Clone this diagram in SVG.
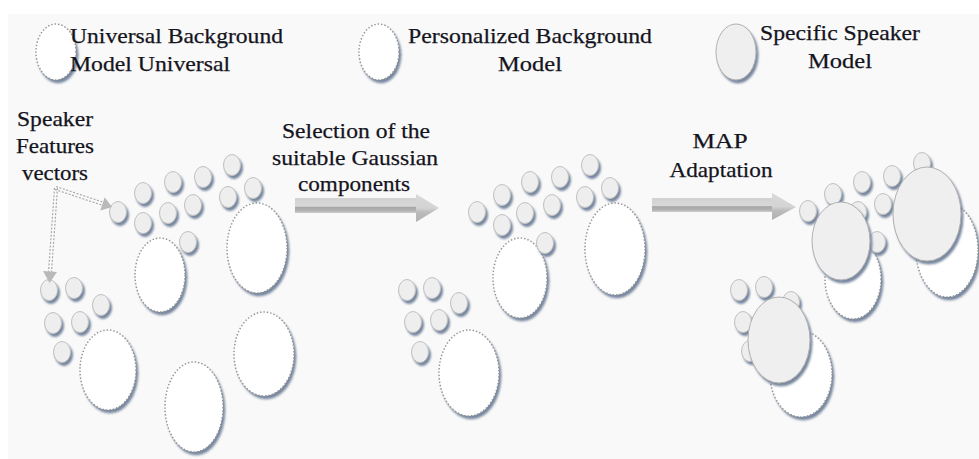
<svg xmlns="http://www.w3.org/2000/svg" width="979" height="459" viewBox="0 0 979 459">
<defs>
<style>
.t{font-family:"Liberation Serif","Times New Roman",serif;font-size:22px;fill:#141420;stroke:#141420;stroke-width:0.25}
.m{text-anchor:middle}
.sm{fill:#eeeeee;stroke:#c0c0c0;stroke-width:1;filter:url(#sh)}
.dot{fill:#ffffff;stroke:#959595;stroke-width:1.5;stroke-dasharray:1.4 2;filter:url(#sh)}
.big{fill:#efefef;stroke:#b0b0b0;stroke-width:1;filter:url(#sh)}
.cn{fill:none;stroke:#aaaaaa;stroke-width:1.2;stroke-dasharray:2 1.6}
</style>
<filter id="sh" x="-30%" y="-30%" width="160%" height="160%">
<feDropShadow dx="2" dy="3" stdDeviation="1.3" flood-color="#687a95" flood-opacity="0.9"/>
</filter>
<linearGradient id="shaft" x1="0" y1="0" x2="0" y2="1">
<stop offset="0" stop-color="#d2d2d2"/>
<stop offset="0.55" stop-color="#d8d8d8"/>
<stop offset="0.62" stop-color="#a8a8a8"/>
<stop offset="0.85" stop-color="#b2b2b2"/>
<stop offset="1" stop-color="#cfcfcf"/>
</linearGradient>
<linearGradient id="head" x1="0" y1="0" x2="0" y2="1">
<stop offset="0" stop-color="#d8d8d8"/>
<stop offset="0.5" stop-color="#d4d4d4"/>
<stop offset="0.65" stop-color="#bcbcbc"/>
<stop offset="1" stop-color="#b0b0b0"/>
</linearGradient>
</defs>
<rect x="0" y="0" width="979" height="459" fill="#ffffff"/>
<rect x="8" y="14" width="971" height="445" fill="#f9f9f9"/>

<g id="legend-ubm">
<ellipse class="dot" cx="56" cy="52" rx="20" ry="28"/>
<text class="t" x="70" y="43" textLength="213" lengthAdjust="spacingAndGlyphs">Universal Background</text>
<text class="t" x="70" y="71" textLength="160" lengthAdjust="spacingAndGlyphs">Model Universal</text>
</g>
<g id="legend-pbm">
<ellipse class="dot" cx="379" cy="52" rx="20" ry="28"/>
<text class="t" x="408" y="43" textLength="244" lengthAdjust="spacingAndGlyphs">Personalized Background</text>
<text class="t m" x="530" y="71" textLength="64" lengthAdjust="spacingAndGlyphs">Model</text>
</g>
<g id="legend-ssm">
<ellipse class="big" cx="736" cy="52" rx="20" ry="28"/>
<text class="t" x="760" y="40" textLength="160" lengthAdjust="spacingAndGlyphs">Specific Speaker</text>
<text class="t m" x="840" y="68" textLength="64" lengthAdjust="spacingAndGlyphs">Model</text>
</g>

<g id="label-features">
<text class="t m" x="55" y="126" textLength="76" lengthAdjust="spacingAndGlyphs">Speaker</text>
<text class="t m" x="55" y="153" textLength="78" lengthAdjust="spacingAndGlyphs">Features</text>
<text class="t m" x="55" y="180" textLength="66" lengthAdjust="spacingAndGlyphs">vectors</text>
</g>
<g id="label-selection">
<text class="t m" x="356" y="138" textLength="148" lengthAdjust="spacingAndGlyphs">Selection of the</text>
<text class="t m" x="355" y="165" textLength="166" lengthAdjust="spacingAndGlyphs">suitable Gaussian</text>
<text class="t m" x="354" y="191" textLength="112" lengthAdjust="spacingAndGlyphs">components</text>
</g>
<g id="label-map">
<text class="t m" x="720" y="148" textLength="55" lengthAdjust="spacingAndGlyphs">MAP</text>
<text class="t m" x="721" y="177" textLength="103" lengthAdjust="spacingAndGlyphs">Adaptation</text>
</g>

<g id="ubm-cluster">
<ellipse class="dot" cx="257" cy="248" rx="30" ry="45"/>
<ellipse class="dot" cx="160" cy="275" rx="25" ry="37"/>
<ellipse class="dot" cx="108" cy="370" rx="28" ry="40"/>
<ellipse class="dot" cx="194" cy="407" rx="29" ry="45"/>
<ellipse class="dot" cx="264" cy="354" rx="30" ry="42"/>
<ellipse class="sm" cx="118" cy="212" rx="8.5" ry="10.5"/>
<ellipse class="sm" cx="143" cy="193" rx="8.5" ry="10.5"/>
<ellipse class="sm" cx="173" cy="182" rx="8.5" ry="10.5"/>
<ellipse class="sm" cx="203" cy="177" rx="8.5" ry="10.5"/>
<ellipse class="sm" cx="232" cy="165" rx="8.5" ry="10.5"/>
<ellipse class="sm" cx="143" cy="223" rx="8.5" ry="10.5"/>
<ellipse class="sm" cx="168" cy="213" rx="8.5" ry="10.5"/>
<ellipse class="sm" cx="193" cy="205" rx="8.5" ry="10.5"/>
<ellipse class="sm" cx="228" cy="197" rx="8.5" ry="10.5"/>
<ellipse class="sm" cx="253" cy="188" rx="8.5" ry="10.5"/>
<ellipse class="sm" cx="188" cy="242" rx="8.5" ry="10.5"/>
<ellipse class="sm" cx="49" cy="290" rx="8.5" ry="10.5"/>
<ellipse class="sm" cx="74" cy="288" rx="8.5" ry="10.5"/>
<ellipse class="sm" cx="101" cy="305" rx="8.5" ry="10.5"/>
<ellipse class="sm" cx="53" cy="323" rx="8.5" ry="10.5"/>
<ellipse class="sm" cx="80" cy="322" rx="8.5" ry="10.5"/>
<ellipse class="sm" cx="62" cy="352" rx="8.5" ry="10.5"/>
</g>

<g id="pbm-cluster">
<ellipse class="dot" cx="615" cy="249" rx="30" ry="46"/>
<ellipse class="dot" cx="520" cy="278" rx="27" ry="40"/>
<ellipse class="dot" cx="469" cy="373" rx="30" ry="43"/>
<ellipse class="sm" cx="477" cy="212" rx="8.5" ry="10.5"/>
<ellipse class="sm" cx="502" cy="195" rx="8.5" ry="10.5"/>
<ellipse class="sm" cx="530" cy="182" rx="8.5" ry="10.5"/>
<ellipse class="sm" cx="560" cy="177" rx="8.5" ry="10.5"/>
<ellipse class="sm" cx="590" cy="165" rx="8.5" ry="10.5"/>
<ellipse class="sm" cx="502" cy="225" rx="8.5" ry="10.5"/>
<ellipse class="sm" cx="525" cy="213" rx="8.5" ry="10.5"/>
<ellipse class="sm" cx="552" cy="205" rx="8.5" ry="10.5"/>
<ellipse class="sm" cx="585" cy="197" rx="8.5" ry="10.5"/>
<ellipse class="sm" cx="610" cy="188" rx="8.5" ry="10.5"/>
<ellipse class="sm" cx="545" cy="243" rx="8.5" ry="10.5"/>
<ellipse class="sm" cx="407" cy="290" rx="8.5" ry="10.5"/>
<ellipse class="sm" cx="432" cy="288" rx="8.5" ry="10.5"/>
<ellipse class="sm" cx="459" cy="303" rx="8.5" ry="10.5"/>
<ellipse class="sm" cx="413" cy="322" rx="8.5" ry="10.5"/>
<ellipse class="sm" cx="439" cy="320" rx="8.5" ry="10.5"/>
<ellipse class="sm" cx="420" cy="352" rx="8.5" ry="10.5"/>
</g>

<g id="ssm-cluster">
<ellipse class="dot" cx="853" cy="279" rx="28" ry="40"/>
<ellipse class="dot" cx="947" cy="250" rx="31" ry="47"/>
<ellipse class="dot" cx="801" cy="374" rx="31" ry="43"/>
<ellipse class="sm" cx="808" cy="211" rx="8.5" ry="10.5"/>
<ellipse class="sm" cx="833" cy="194" rx="8.5" ry="10.5"/>
<ellipse class="sm" cx="862" cy="182" rx="8.5" ry="10.5"/>
<ellipse class="sm" cx="892" cy="176" rx="8.5" ry="10.5"/>
<ellipse class="sm" cx="922" cy="163" rx="8.5" ry="10.5"/>
<ellipse class="sm" cx="833" cy="225" rx="8.5" ry="10.5"/>
<ellipse class="sm" cx="858" cy="212" rx="8.5" ry="10.5"/>
<ellipse class="sm" cx="883" cy="204" rx="8.5" ry="10.5"/>
<ellipse class="sm" cx="916" cy="197" rx="8.5" ry="10.5"/>
<ellipse class="sm" cx="941" cy="188" rx="8.5" ry="10.5"/>
<ellipse class="sm" cx="877" cy="242" rx="8.5" ry="10.5"/>
<ellipse class="sm" cx="739" cy="290" rx="8.5" ry="10.5"/>
<ellipse class="sm" cx="764" cy="287" rx="8.5" ry="10.5"/>
<ellipse class="sm" cx="791" cy="302" rx="8.5" ry="10.5"/>
<ellipse class="sm" cx="743" cy="322" rx="8.5" ry="10.5"/>
<ellipse class="sm" cx="770" cy="320" rx="8.5" ry="10.5"/>
<ellipse class="sm" cx="750" cy="351" rx="8.5" ry="10.5"/>
<ellipse class="big" cx="841" cy="241" rx="29" ry="39"/>
<ellipse class="big" cx="927" cy="214" rx="34" ry="47"/>
<ellipse class="big" cx="779" cy="340" rx="31" ry="43"/>
</g>

<g id="connectors">
<path class="cn" d="M56,186.5 L104,202.5 M55,189.5 L103,205.5"/>
<path class="cn" d="M54.5,188 L48.5,272 M57.5,188 L51.5,272"/>
<polygon points="112,207 100.3,210.4 104.7,197.2" fill="#b9b9b9"/>
<polygon points="49.5,283 43,271 57,272" fill="#b9b9b9"/>
<rect x="295" y="198" width="122" height="15" fill="url(#shaft)"/>
<polygon points="416,194 439,208 416,222" fill="url(#head)"/>
<rect x="652" y="198" width="121" height="14" fill="url(#shaft)"/>
<polygon points="772,193 796,207 772,220" fill="url(#head)"/>
</g>
</svg>
